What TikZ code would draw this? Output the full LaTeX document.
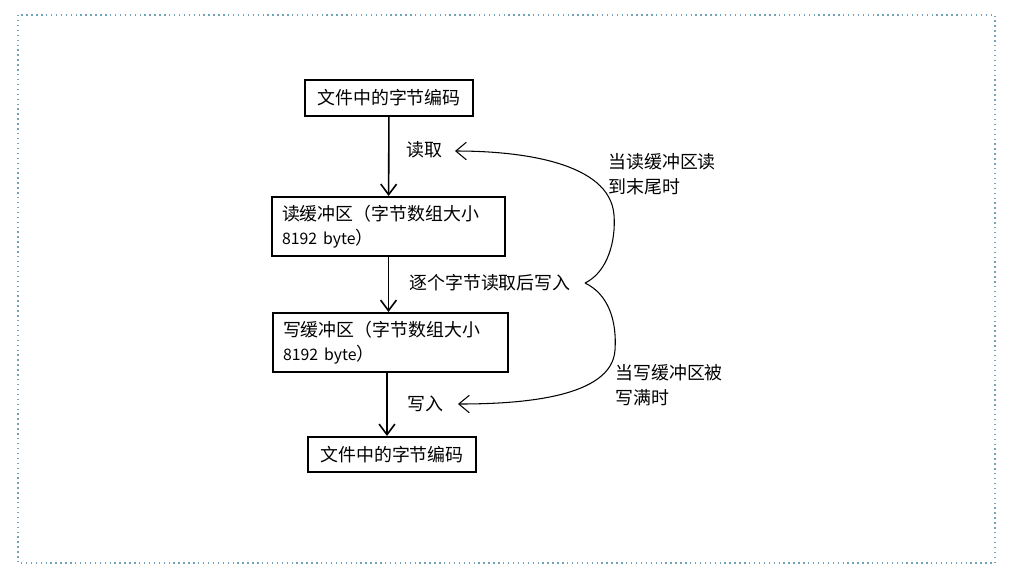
\documentclass[tikz,border=0pt]{standalone}
\usepackage{fontspec}
\setmainfont{Carlito}
\newfontfamily\cjk{Noto Sans CJK SC}
\usetikzlibrary{arrows.meta}
\tikzset{
	box/.style={draw, line width=1.2pt, inner sep=0pt, font=\cjk\fontsize{10.2}{14}\selectfont},
	lbl/.style={font=\cjk\fontsize{10.2}{14}\selectfont, inner sep=0pt},
	flow/.style={-{Straight Barb[length=6pt,width=9pt]}, line width=0.9pt},
	back/.style={-{Straight Barb[length=6pt,width=10pt]}, line width=0.6pt}
}
\begin{document}
\begin{tikzpicture}[x=0.02cm, y=-0.02cm]
	\useasboundingbox (0,0) rectangle (1018,583);
	\draw[dotted, line width=0.8pt, color=cyan!40!gray] (18,15) rectangle (995,563);
	
	\node[box, minimum width=168*0.02cm, minimum height=36*0.02cm] (src) at (389,98) {文件中的字节编码};
	\node[box, minimum width=233*0.02cm, minimum height=59*0.02cm, align=left, text width=213*0.02cm] (rbuf) at (388.5,226.5) {读缓冲区（字节数组大小\\{\fontsize{9}{14}\selectfont 8192 byte}）};
	\node[box, minimum width=235*0.02cm, minimum height=59*0.02cm, align=left, text width=215*0.02cm] (wbuf) at (390.5,342.5) {写缓冲区（字节数组大小\\{\fontsize{9}{14}\selectfont 8192 byte}）};
	\node[box, minimum width=168*0.02cm, minimum height=35*0.02cm] (dst) at (392,454.5) {文件中的字节编码};
	
	\draw[flow] (src) -- (rbuf);
	\draw[flow] (rbuf) -- (rbuf|-wbuf.north);
	\draw[flow] (387,372) -- (dst.north-|387,0);
	
	\node[lbl] (read) at (424,150) {读取};
	\node[lbl] (copy) at (490,283) {逐个字节读取后写入};
	\node[lbl] (write) at (425,404) {写入};
	
	\coordinate (tip) at (585,283);
	\draw[back] (tip) .. controls (608,272) and (616,240) .. (614,215) .. controls (610,162) and (520,151) .. (455,151);
	\draw[back] (tip) .. controls (608,294) and (617,320) .. (615,350) .. controls (612,398) and (520,404) .. (458,404);
	
	\node[lbl, anchor=west, align=left] (rnote) at (608,174) {当读缓冲区读\\到末尾时};
	\node[lbl, anchor=west, align=left] (wnote) at (615,385) {当写缓冲区被\\写满时};
\end{tikzpicture}
\end{document}
